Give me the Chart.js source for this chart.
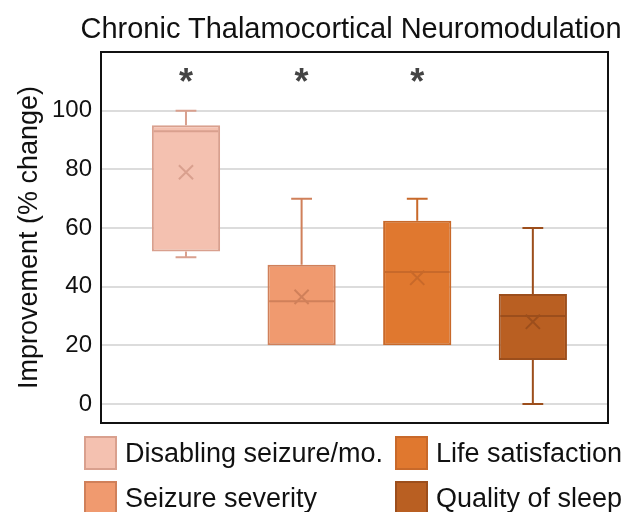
<!DOCTYPE html>
<html>
<head>
<meta charset="utf-8">
<script src="https://cdn.jsdelivr.net/npm/chart.js@4.4.0/dist/chart.umd.min.js"></script>
<style>
  html, body { margin: 0; padding: 0; background: #fff; }
  #wrap { position: relative; width: 625px; height: 512px; overflow: hidden; font-family: "Liberation Sans", Arial, sans-serif; }
  #title { position: absolute; left: 0; top: 11px; width: 702px; text-align: center; font-size: 29px; line-height: 34px; color: #111; white-space: nowrap; }
  #legend { position: absolute; left: 84px; top: 436px; display: grid; grid-template-columns: 311px auto; row-gap: 11px; }
  .item { display: flex; align-items: center; height: 34px; font-size: 27px; color: #111; white-space: nowrap; }
  .swatch { box-sizing: border-box; width: 33px; height: 34px; border: 2px solid; margin-right: 8px; }
</style>
</head>
<body>
<div id="wrap">
  <canvas id="boxChart" width="625" height="512"></canvas>
  <div id="title">Chronic Thalamocortical Neuromodulation</div>
  <div id="legend"></div>
</div>
<script>
// Box plot values (% change), one entry per outcome
const categories = ['Disabling seizure/mo.', 'Seizure severity', 'Life satisfaction', 'Quality of sleep'];
const whiskerMin = [50, 20, 20, 0];
const q1 = [52, 20, 20, 15];
const medians = [93, 35, 45, 30];
const q3 = [95, 47.5, 62.5, 37.5];
const whiskerMax = [100, 70, 70, 60];
const means = [79, 36.5, 43, 28];
const significant = [true, true, true, false];
const starLevel = 112;
const yTicks = [0, 20, 40, 60, 80, 100];

const fillColors = ['#f4c1b0', '#f09a6f', '#e0782f', '#b95f22'];
const lineColors = ['#d9a08e', '#d0805a', '#c8692a', '#9c4e1c'];
const FONT = '"Liberation Sans", Arial, sans-serif';
const capHalf = 0.09;
const boxHalf = 0.28;

// whiskers, caps and median for one box, segments split by null points
function boxLines(i) {
  const pts = [
    {x: i, y: whiskerMax[i]}, {x: i, y: q3[i]}, {x: i, y: null},
    {x: i - capHalf, y: whiskerMax[i]}, {x: i + capHalf, y: whiskerMax[i]}, {x: i, y: null}
  ];
  if (whiskerMin[i] < q1[i]) {
    pts.push({x: i, y: q1[i]}, {x: i, y: whiskerMin[i]}, {x: i, y: null},
             {x: i - capHalf, y: whiskerMin[i]}, {x: i + capHalf, y: whiskerMin[i]}, {x: i, y: null});
  }
  pts.push({x: i - boxHalf, y: medians[i]}, {x: i + boxHalf, y: medians[i]});
  return pts;
}

const lineSets = categories.map((c, i) => ({
  type: 'line',
  label: c + ' whiskers',
  data: boxLines(i),
  borderColor: lineColors[i],
  borderWidth: 2,
  pointRadius: 0,
  spanGaps: false,
  order: 1
}));

const sigStars = {
  id: 'sigStars',
  afterDatasetsDraw(chart) {
    const {ctx, scales: {x, y}} = chart;
    ctx.save();
    ctx.font = 'bold 36px ' + FONT;
    ctx.fillStyle = '#444';
    ctx.textAlign = 'center';
    ctx.textBaseline = 'alphabetic';
    const m = ctx.measureText('*');
    const shift = (m.actualBoundingBoxAscent - m.actualBoundingBoxDescent) / 2;
    significant.forEach((s, i) => {
      if (s) ctx.fillText('*', x.getPixelForValue(i), y.getPixelForValue(starLevel) + shift);
    });
    ctx.restore();
  }
};

const frame = {
  id: 'frame',
  afterDraw(chart) {
    const {ctx, chartArea: a} = chart;
    ctx.save();
    ctx.strokeStyle = '#111';
    ctx.lineWidth = 2;
    ctx.strokeRect(a.left, a.top, a.right - a.left, a.bottom - a.top);
    ctx.restore();
  }
};

new Chart(document.getElementById('boxChart'), {
  type: 'bar',
  data: {
    datasets: [
      ...lineSets,
      {
        type: 'scatter',
        label: 'Mean',
        data: means.map((m, i) => ({x: i, y: m})),
        pointStyle: 'crossRot',
        pointRadius: 10,
        pointBorderWidth: 2,
        pointBorderColor: lineColors,
        order: 0
      },
      {
        label: 'Interquartile range',
        data: categories.map((c, i) => ({x: i, y: [q1[i], q3[i]]})),
        backgroundColor: fillColors,
        borderColor: lineColors,
        borderWidth: 2,
        borderSkipped: false,
        barPercentage: 0.59,
        categoryPercentage: 1,
        order: 2
      }
    ]
  },
  options: {
    responsive: false,
    animation: false,
    layout: { padding: { left: 10, right: 17, top: 52, bottom: 89 } },
    plugins: {
      legend: { display: false },
      tooltip: { enabled: false },
      title: { display: false }
    },
    scales: {
      x: {
        type: 'linear',
        display: false,
        offset: false,
        min: -0.735,
        max: 3.65,
        afterBuildTicks: s => { s.ticks = categories.map((c, i) => ({value: i})); }
      },
      y: {
        min: -6.5,
        max: 120,
        afterBuildTicks: s => { s.ticks = yTicks.map(v => ({value: v})); },
        afterFit: s => { s.width = 91; },
        border: { display: false },
        grid: { color: '#dcdcdc', lineWidth: 2, drawTicks: false },
        ticks: { color: '#111', padding: 9, font: { family: FONT, size: 24 } },
        title: {
          display: true,
          text: 'Improvement (% change)',
          color: '#111',
          font: { family: FONT, size: 27 },
          padding: { top: 3, bottom: 0 }
        }
      }
    }
  },
  plugins: [sigStars, frame]
});

// legend laid out in two columns like the original figure
const legendOrder = [0, 2, 1, 3];
document.getElementById('legend').innerHTML = legendOrder.map(i =>
  '<div class="item"><span class="swatch" style="background:' + fillColors[i] +
  ';border-color:' + lineColors[i] + '"></span>' + categories[i] + '</div>').join('');
</script>
</body>
</html>
